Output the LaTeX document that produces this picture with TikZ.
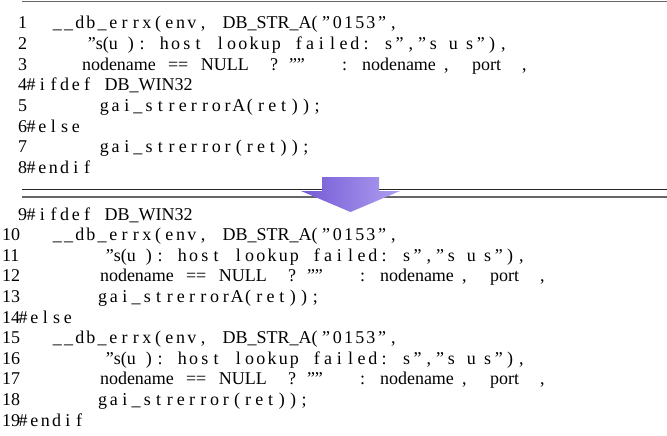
\documentclass[tikz,border=0pt]{standalone}
\usepackage{fontspec}
\setmainfont{Liberation Serif}
\definecolor{arrL}{RGB}{116,90,212}
\definecolor{arrR}{RGB}{174,158,241}
\newlength\colw
\setlength\colw{11.2pt}
\makeatletter
\newcommand\cc[1]{\@tfor\cc@t:=#1\do{\makebox[\colw]{\cc@t}}}
\makeatother
\newcommand\nat[2]{\makebox[#1\colw]{#2}}
\newcommand\spc[1]{\hspace*{#1\colw}}
\newcommand\putat[2]{\makebox[0pt][l]{\hspace*{#1pt}#2}}
\newcommand\lineA{\cc{\_\_db\_errx(env,}\spc{1}\nat{9}{DB\_STR\_A(}\cc{”0153”,}}
\newcommand\lineB{\nat{4}{”s(u}\cc{):}\spc{1}\cc{host}\spc{1}\cc{lookup}\spc{1}\cc{failed:}\spc{1}\cc{s”,”s}\spc{0.8}\cc{u}\hspace*{5pt}\cc{s”),}}
\newcommand\lineC{\putat{0}{nodename}\putat{86}{==}\putat{119}{NULL}\putat{188}{?}\putat{207}{””}\putat{260}{:}\putat{280}{nodename}\putat{362}{,}\putat{390}{port}\putat{440}{,}\hspace*{445pt}}
\begin{document}
\begin{tikzpicture}[x=1pt,y=-1pt,
  code/.style={anchor=base west,inner sep=0pt,outer sep=0pt,font=\fontsize{18}{20}\selectfont},
  rulegray/.style={draw=black!60,line width=1.2pt},
  ruleblack/.style={draw=black!85,line width=0.9pt}]
\useasboundingbox (0,0) rectangle (667,436);
% rules
\coordinate (t1) at (22,1.3); \coordinate (t2) at (667,1.3);
\coordinate (m1) at (22,189); \coordinate (m2) at (667,189);
\coordinate (n1) at (22,197); \coordinate (n2) at (667,197);
\draw[rulegray] (t1) -- (t2);
\draw[ruleblack] (m1) -- (m2);
\draw[rulegray] (n1) -- (n2);
% block 1
\def\ya{29}\def\dy{20.6}
\node[code] (l1n) at (18,{\ya+0*\dy}) {1};
\node[code] (l1) at (51.8,{\ya+0*\dy}) {\lineA};
\node[code] (l2n) at (18,{\ya+1*\dy}) {2};
\node[code] (l2) at (80.5,{\ya+1*\dy}) {\lineB};
\node[code] (l3n) at (18,{\ya+2*\dy}) {3};
\node[code] (l3) at (82,{\ya+2*\dy}) {\lineC};
\node[code] (l4n) at (18,{\ya+3*\dy}) {4};
\node[code] (l4) at (25.5,{\ya+3*\dy}) {\cc{\#ifdef}\spc{1}\nat{8}{DB\_WIN32}};
\node[code] (l5n) at (18,{\ya+4*\dy}) {5};
\node[code] (l5) at (98.8,{\ya+4*\dy}) {\cc{gai\_strerrorA(ret));}};
\node[code] (l6n) at (18,{\ya+5*\dy}) {6};
\node[code] (l6) at (25.5,{\ya+5*\dy}) {\cc{\#else}};
\node[code] (l7n) at (18,{\ya+6*\dy}) {7};
\node[code] (l7) at (98.8,{\ya+6*\dy}) {\cc{gai\_strerror(ret));}};
\node[code] (l8n) at (18,{\ya+7*\dy}) {8};
\node[code] (l8) at (25.5,{\ya+7*\dy}) {\cc{\#endif}};
% block 2
\def\yb{220}
\node[code] (l9n) at (18,{\yb+0*\dy}) {9};
\node[code] (l9) at (25.5,{\yb+0*\dy}) {\cc{\#ifdef}\spc{1}\nat{8}{DB\_WIN32}};
\node[code] (l10n) at (2,{\yb+1*\dy}) {10};
\node[code] (l10) at (51.8,{\yb+1*\dy}) {\lineA};
\node[code] (l11n) at (2,{\yb+2*\dy}) {11};
\node[code] (l11) at (98.5,{\yb+2*\dy}) {\lineB};
\node[code] (l12n) at (2,{\yb+3*\dy}) {12};
\node[code] (l12) at (100,{\yb+3*\dy}) {\lineC};
\node[code] (l13n) at (2,{\yb+4*\dy}) {13};
\node[code] (l13) at (97,{\yb+4*\dy}) {\cc{gai\_strerrorA(ret));}};
\node[code] (l14n) at (2,{\yb+5*\dy}) {14};
\node[code] (l14) at (17.5,{\yb+5*\dy}) {\cc{\#else}};
\node[code] (l15n) at (2,{\yb+6*\dy}) {15};
\node[code] (l15) at (51.8,{\yb+6*\dy}) {\lineA};
\node[code] (l16n) at (2,{\yb+7*\dy}) {16};
\node[code] (l16) at (98.5,{\yb+7*\dy}) {\lineB};
\node[code] (l17n) at (2,{\yb+8*\dy}) {17};
\node[code] (l17) at (100,{\yb+8*\dy}) {\lineC};
\node[code] (l18n) at (2,{\yb+9*\dy}) {18};
\node[code] (l18) at (97,{\yb+9*\dy}) {\cc{gai\_strerror(ret));}};
\node[code] (l19n) at (2,{\yb+10*\dy}) {19};
\node[code] (l19) at (17.5,{\yb+10*\dy}) {\cc{\#endif}};
% arrow
\shade[left color=arrL,right color=arrR]
  (322,177) -- (379,177) -- (379,191) -- (400,191) -- (350.5,212) -- (301,191) -- (322,191) -- cycle;
\end{tikzpicture}
\end{document}
